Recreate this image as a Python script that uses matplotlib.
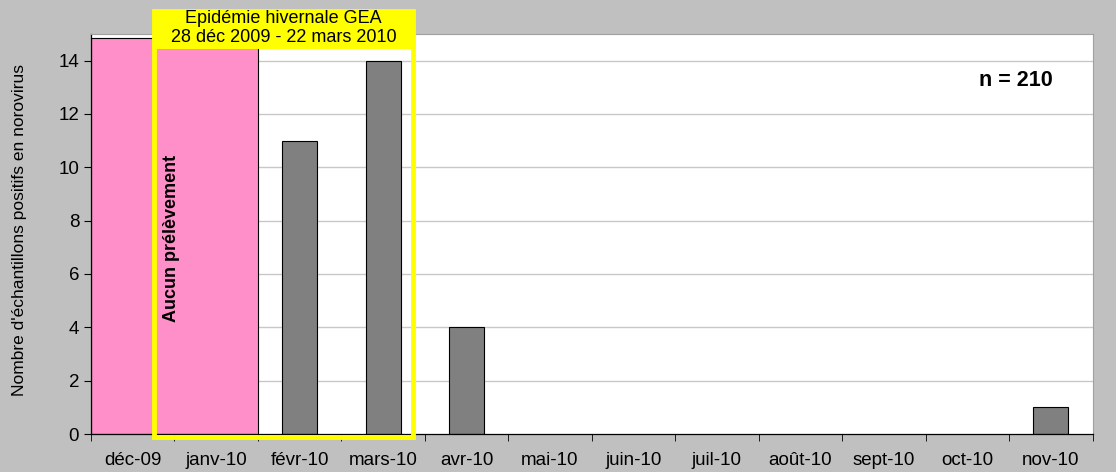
import numpy as np
import matplotlib
matplotlib.use("Agg")
import matplotlib.pyplot as plt
from matplotlib.patches import Rectangle

plt.rcParams["font.family"] = ["Liberation Sans", "DejaVu Sans"]

MONTHS = ["déc-09", "janv-10", "févr-10", "mars-10", "avr-10", "mai-10", "juin-10",
          "juil-10", "août-10", "sept-10", "oct-10", "nov-10"]
POSITIFS = [0, 0, 11, 14, 4, 0, 0, 0, 0, 0, 0, 1]
SANS_PRELEV = ["déc-09", "janv-10"]  # mois sans prélèvement
SANS_PRELEV_H = 14.85
EPIDEMIE = (0.25, 3.36)  # 28 déc 2009 - 22 mars 2010, en unités de catégorie

GREY_BG = "#c0c0c0"
PINK = "#ff8fc8"
BAR = "#808080"
YELLOW = "#ffff00"

fig = plt.figure(figsize=(11.16, 4.72), dpi=100, facecolor=GREY_BG)
ax = fig.add_axes([0.0815, 0.0805, 0.8975, 0.8475])
ax.set_facecolor("white")

x = np.arange(len(MONTHS))
for y in range(2, 16, 2):
    ax.axhline(y, color="#c8c8c8", lw=1, zorder=0)

# bloc rose : une seule barre couvrant les mois sans prélèvement
idx = [MONTHS.index(m) for m in SANS_PRELEV]
ax.bar(np.mean(idx), SANS_PRELEV_H, width=len(idx), color=PINK,
       edgecolor="black", lw=0.8, zorder=1)
bx = [i for i, v in enumerate(POSITIFS) if v > 0]
ax.bar(bx, [POSITIFS[i] for i in bx], width=0.42, color=BAR,
       edgecolor="black", lw=0.8, zorder=2)

# cadre épidémie
x0, x1 = EPIDEMIE
ax.add_patch(Rectangle((x0, -0.1), x1 - x0, 14.65, fill=False, edgecolor=YELLOW,
                       lw=3.5, zorder=4, clip_on=False))
ax.add_patch(Rectangle((x0, 14.55), x1 - x0, 1.33, facecolor=YELLOW, edgecolor=YELLOW,
                       lw=3.5, zorder=5, clip_on=False))
ax.text((x0 + x1) / 2, 15.22, "Epidémie hivernale GEA\n28 déc 2009 - 22 mars 2010",
        ha="center", va="center", fontsize=13, linespacing=1.2, zorder=6, clip_on=False)

ax.text(0.47, 7.35, "Aucun prélèvement", rotation=90, ha="center", va="center",
        fontsize=13, fontweight="bold", zorder=6)
ax.text(10.58, 13.25, "n = 210", ha="center", va="center", fontsize=15.5,
        fontweight="bold")

ax.set_xlim(-0.5, len(MONTHS) - 0.5)
ax.set_ylim(0, 15)
ax.set_yticks(range(0, 15, 2))
ax.set_xticks(x)
ax.set_xticklabels(MONTHS)
ax.set_xticks(np.arange(-0.5, len(MONTHS), 1), minor=True)
ax.tick_params(axis="x", which="major", length=0, labelsize=13.5, pad=13)
ax.tick_params(axis="x", which="minor", length=5, direction="out")
ax.tick_params(axis="y", labelsize=13.5, length=5, direction="out")
ax.set_ylabel("Nombre d'échantillons positifs en norovirus", fontsize=12.5)
ax.yaxis.set_label_coords(-0.064, 0.51)

for s in ["top", "right"]:
    ax.spines[s].set_color("#a0a0a0")
    ax.spines[s].set_linewidth(0.8)
for s in ["left", "bottom"]:
    ax.spines[s].set_color("black")
    ax.spines[s].set_linewidth(0.9)

fig.savefig("out.png", dpi=100, facecolor=GREY_BG)
